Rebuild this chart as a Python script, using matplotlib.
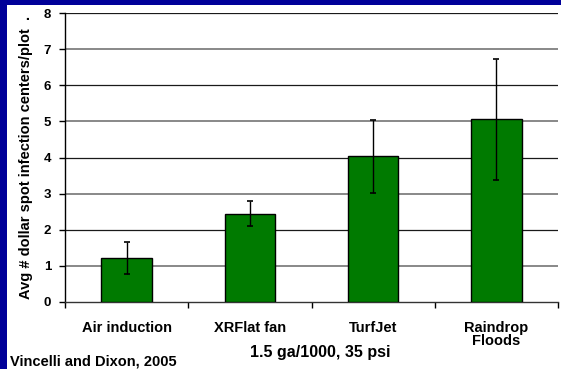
import matplotlib.pyplot as plt
import matplotlib.patches as mpatches
import numpy as np

plt.rcParams['font.family'] = ['Liberation Sans', 'DejaVu Sans']
plt.rcParams['font.weight'] = 'bold'

# data
nozzles = ["Air induction", "XRFlat fan", "TurfJet", "Raindrop\nFloods"]
avg_centers = [1.21, 2.44, 4.03, 5.06]
std_err = [0.44, 0.35, 1.02, 1.67]
y_ticks = [0, 1, 2, 3, 4, 5, 6, 7, 8]

fig = plt.figure(figsize=(5.61, 3.69), dpi=100, facecolor="#000099")
# white slide area inside the blue frame
fig.patches.append(mpatches.Rectangle((7 / 561, 0), 1, 1 - 5 / 369,
                                      transform=fig.transFigure,
                                      facecolor="white", edgecolor="none", zorder=-10))

ax = fig.add_axes([65 / 561, 67 / 369, 493 / 561, 289 / 369])
ax.set_facecolor("white")

x = np.arange(len(nozzles))
ax.bar(x, avg_centers, width=0.41, color="#007A00", edgecolor="black",
       linewidth=1, zorder=3)
ax.errorbar(x, avg_centers, yerr=std_err, fmt="none", ecolor="black",
            elinewidth=1, capsize=2.2, capthick=1.2, zorder=4)

# alternating grid lines like the original slide
for v in y_ticks[1:]:
    if v % 2 == 0:
        ax.axhline(v, color="#1a1a1a", linewidth=0.9, zorder=1)
    else:
        ax.axhline(v, color="#888888", linewidth=1.4, zorder=1)

ax.set_xlim(-0.5, len(nozzles) - 0.5)
ax.set_ylim(0, 8)
ax.set_yticks(y_ticks)
ax.set_yticklabels([str(v) for v in y_ticks], fontsize=9.5, fontweight="bold")
ax.set_xticks(x)
ax.set_xticklabels(nozzles, fontsize=10.5, fontweight="bold", linespacing=0.85)
ax.tick_params(axis="x", which="major", length=0, pad=14)
ax.set_xticks(np.arange(len(nozzles) + 1) - 0.5, minor=True)
ax.tick_params(axis="x", which="minor", length=4, width=1, direction="out")
ax.tick_params(axis="y", length=4, width=1, direction="out", pad=6)

for s in ["top", "right"]:
    ax.spines[s].set_visible(False)
ax.spines["left"].set_linewidth(1)
ax.spines["bottom"].set_linewidth(1)
ax.spines["bottom"].set_color("#333333")

ax.set_ylabel("Avg # dollar spot infection centers/plot  .", fontsize=10.5,
              fontweight="bold")
ax.yaxis.set_label_coords(-0.064, 0.5)

fig.text(320 / 561, 1 - 353 / 369, "1.5 ga/1000, 35 psi", fontsize=11.5,
         fontweight="bold", ha="center", va="center")
fig.text(10 / 561, 1 - 362 / 369, "Vincelli and Dixon, 2005", fontsize=10.5,
         fontweight="bold", ha="left", va="center")

fig.savefig("out.png", dpi=100, facecolor=fig.get_facecolor())
